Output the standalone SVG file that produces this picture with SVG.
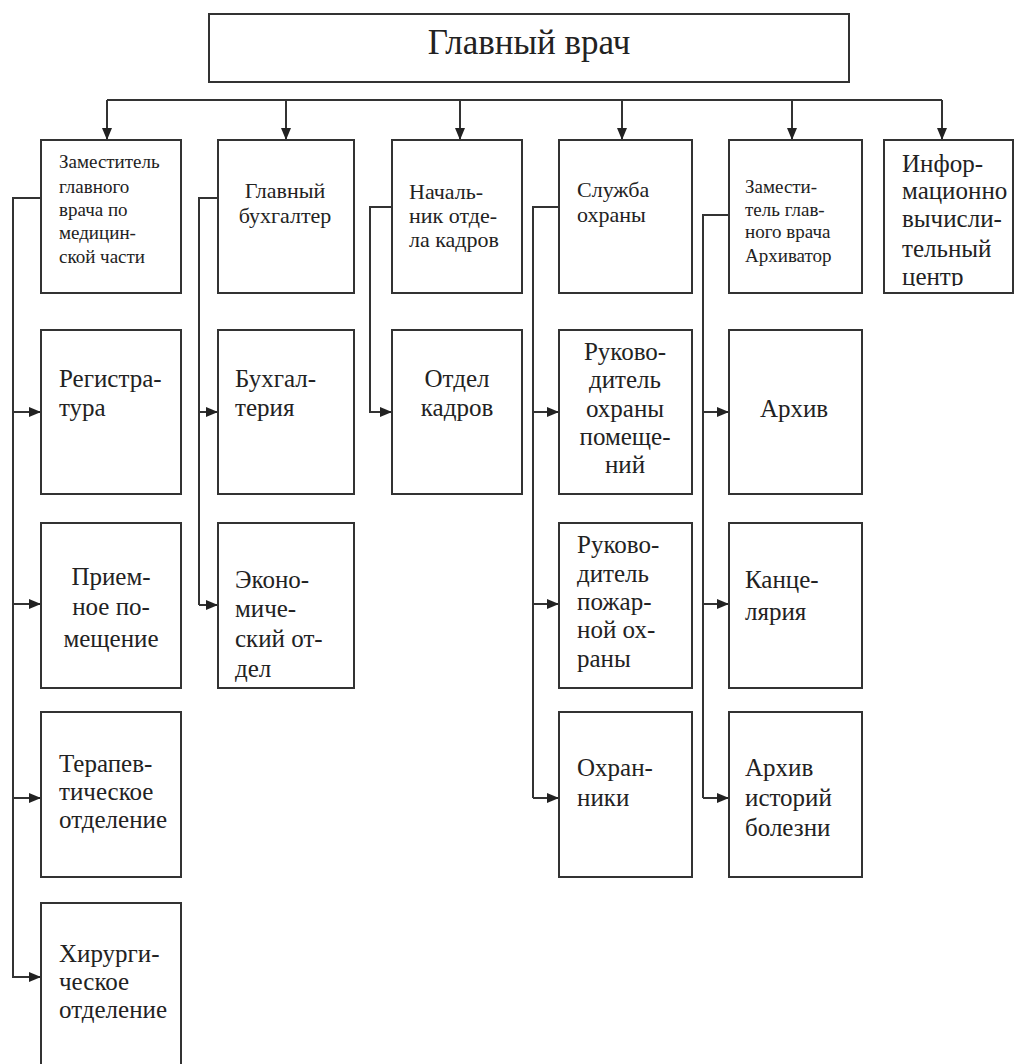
<svg xmlns="http://www.w3.org/2000/svg" width="1014" height="1064" viewBox="0 0 1014 1064">
<style>
.box{fill:#fff;stroke:#333;stroke-width:2}
.ln{fill:none;stroke:#333;stroke-width:2}
.tx{fill:#222}
.t{font-size:35px}
.s{font-size:19px}
.m{font-size:22px}
.l{font-size:25px}
.c{text-anchor:middle}
</style>
<defs>
<marker id="ah" markerUnits="userSpaceOnUse" markerWidth="12" markerHeight="10" refX="12" refY="5" orient="auto">
<path d="M0,0 L12,5 L0,10 z" fill="#222"/>
</marker>
<clipPath id="clip6"><rect x="884" y="140" width="130" height="146"/></clipPath>
</defs>
<g id="connectors">
<path class="ln" d="M107,100 H942"/>
<path class="ln" d="M107,100 V140" marker-end="url(#ah)"/>
<path class="ln" d="M286,100 V140" marker-end="url(#ah)"/>
<path class="ln" d="M460,100 V140" marker-end="url(#ah)"/>
<path class="ln" d="M622,100 V140" marker-end="url(#ah)"/>
<path class="ln" d="M792,100 V140" marker-end="url(#ah)"/>
<path class="ln" d="M942,100 V140" marker-end="url(#ah)"/>
<path class="ln" d="M41,198 H13 V978"/>
<path class="ln" d="M13,412 H41" marker-end="url(#ah)"/>
<path class="ln" d="M13,604 H41" marker-end="url(#ah)"/>
<path class="ln" d="M13,798 H41" marker-end="url(#ah)"/>
<path class="ln" d="M13,977 H41" marker-end="url(#ah)"/>
<path class="ln" d="M218,198 H199 V605"/>
<path class="ln" d="M199,412 H218" marker-end="url(#ah)"/>
<path class="ln" d="M199,605 H218" marker-end="url(#ah)"/>
<path class="ln" d="M392,207 H370 V412 H392" marker-end="url(#ah)"/>
<path class="ln" d="M559,207 H533 V798"/>
<path class="ln" d="M533,412 H559" marker-end="url(#ah)"/>
<path class="ln" d="M533,604 H559" marker-end="url(#ah)"/>
<path class="ln" d="M533,798 H559" marker-end="url(#ah)"/>
<path class="ln" d="M729,215 H703 V798"/>
<path class="ln" d="M703,412 H729" marker-end="url(#ah)"/>
<path class="ln" d="M703,604 H729" marker-end="url(#ah)"/>
<path class="ln" d="M703,798 H729" marker-end="url(#ah)"/>
</g>
<g font-family="'Liberation Serif', 'Times New Roman', 'DejaVu Serif', serif">
<g id="chief">
<rect class="box" x="209" y="14" width="640" height="68"/>
<text class="tx t c" x="529" y="54">Главный врач</text>
</g>
<g id="deputy-med">
<rect class="box" x="41" y="140" width="140" height="153"/>
<text class="tx s"><tspan x="59" y="168">Заместитель</tspan><tspan x="59" y="193">главного</tspan><tspan x="59" y="216">врача по</tspan><tspan x="59" y="239">медицин-</tspan><tspan x="59" y="263">ской части</tspan></text>
</g>
<g id="chief-accountant">
<rect class="box" x="218" y="140" width="136" height="153"/>
<text class="tx m c"><tspan x="285" y="198">Главный</tspan><tspan x="285" y="223">бухгалтер</tspan></text>
</g>
<g id="hr-head">
<rect class="box" x="392" y="140" width="130" height="153"/>
<text class="tx m"><tspan x="409" y="199">Началь-</tspan><tspan x="409" y="223">ник отде-</tspan><tspan x="409" y="247">ла кадров</tspan></text>
</g>
<g id="security">
<rect class="box" x="559" y="140" width="133" height="153"/>
<text class="tx m"><tspan x="577" y="197">Служба</tspan><tspan x="577" y="222">охраны</tspan></text>
</g>
<g id="deputy-archive">
<rect class="box" x="729" y="140" width="133" height="153"/>
<text class="tx s"><tspan x="745" y="193">Замести-</tspan><tspan x="745" y="216">тель глав-</tspan><tspan x="745" y="238">ного врача</tspan><tspan x="745" y="262">Архиватор</tspan></text>
</g>
<g id="it-center">
<rect class="box" x="884" y="140" width="129" height="153"/>
<text class="tx l" clip-path="url(#clip6)"><tspan x="902" y="172">Инфор-</tspan><tspan x="902" y="199">мационно</tspan><tspan x="902" y="227">вычисли-</tspan><tspan x="902" y="257">тельный</tspan><tspan x="902" y="285">центр</tspan></text>
</g>
<g id="registry">
<rect class="box" x="41" y="330" width="140" height="164"/>
<text class="tx l"><tspan x="59" y="387">Регистра-</tspan><tspan x="59" y="416">тура</tspan></text>
</g>
<g id="accounting">
<rect class="box" x="218" y="330" width="136" height="164"/>
<text class="tx l"><tspan x="235" y="387">Бухгал-</tspan><tspan x="235" y="416">терия</tspan></text>
</g>
<g id="hr-dept">
<rect class="box" x="392" y="330" width="130" height="164"/>
<text class="tx l c"><tspan x="457" y="387">Отдел</tspan><tspan x="457" y="416">кадров</tspan></text>
</g>
<g id="premises-security">
<rect class="box" x="559" y="330" width="133" height="164"/>
<text class="tx l c"><tspan x="625" y="360">Руково-</tspan><tspan x="625" y="388">дитель</tspan><tspan x="625" y="417">охраны</tspan><tspan x="625" y="445">помеще-</tspan><tspan x="625" y="473">ний</tspan></text>
</g>
<g id="archive">
<rect class="box" x="729" y="330" width="133" height="164"/>
<text class="tx l c" x="794" y="417">Архив</text>
</g>
<g id="reception">
<rect class="box" x="41" y="523" width="140" height="165"/>
<text class="tx l c"><tspan x="111" y="585">Прием-</tspan><tspan x="111" y="615">ное по-</tspan><tspan x="111" y="647">мещение</tspan></text>
</g>
<g id="economic">
<rect class="box" x="218" y="523" width="136" height="165"/>
<text class="tx l"><tspan x="235" y="588">Эконо-</tspan><tspan x="235" y="617">миче-</tspan><tspan x="235" y="647">ский от-</tspan><tspan x="235" y="677">дел</tspan></text>
</g>
<g id="fire-security">
<rect class="box" x="559" y="523" width="133" height="165"/>
<text class="tx l"><tspan x="577" y="553">Руково-</tspan><tspan x="577" y="582">дитель</tspan><tspan x="577" y="610">пожар-</tspan><tspan x="577" y="638">ной ох-</tspan><tspan x="577" y="667">раны</tspan></text>
</g>
<g id="office">
<rect class="box" x="729" y="523" width="133" height="165"/>
<text class="tx l"><tspan x="745" y="588">Канце-</tspan><tspan x="745" y="620">лярия</tspan></text>
</g>
<g id="therapy">
<rect class="box" x="41" y="712" width="140" height="165"/>
<text class="tx l"><tspan x="59" y="772">Терапев-</tspan><tspan x="59" y="800">тическое</tspan><tspan x="59" y="828">отделение</tspan></text>
</g>
<g id="guards">
<rect class="box" x="559" y="712" width="133" height="165"/>
<text class="tx l"><tspan x="577" y="776">Охран-</tspan><tspan x="577" y="806">ники</tspan></text>
</g>
<g id="history-archive">
<rect class="box" x="729" y="712" width="133" height="165"/>
<text class="tx l"><tspan x="745" y="776">Архив</tspan><tspan x="745" y="806">историй</tspan><tspan x="745" y="836">болезни</tspan></text>
</g>
<g id="surgery">
<rect class="box" x="41" y="903" width="140" height="170"/>
<text class="tx l"><tspan x="59" y="962">Хирурги-</tspan><tspan x="59" y="990">ческое</tspan><tspan x="59" y="1018">отделение</tspan></text>
</g>
</g>
</svg>
